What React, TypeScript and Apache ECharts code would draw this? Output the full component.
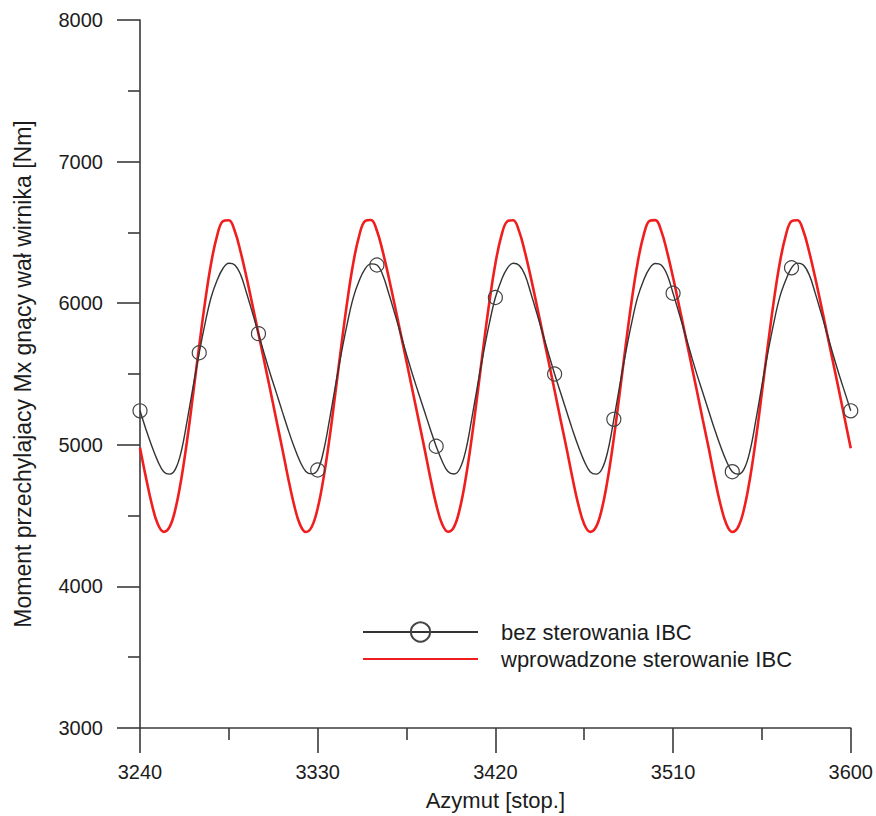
import { useEffect, useRef } from "react";
import * as echarts from "echarts";

// Axis ranges and ticks
const X_MIN = 3240;
const X_MAX = 3600;
const X_INTERVAL = 90;
const Y_MIN = 3000;
const Y_MAX = 8000;
const Y_INTERVAL = 1000;
const X_STEP = 3; // sampling step of the read values (degrees)
const MARKER_EVERY = 30; // circles of the first series every 30 degrees

const seriesNames = ["bez sterowania IBC", "wprowadzone sterowanie IBC"];

// "wprowadzone sterowanie IBC" (red), read per rotor revolution (72 deg each)
const red1 = [4980, 4770, 4580, 4440, 4385, 4420, 4550, 4766, 5046, 5368, 5700, 6013, 6280, 6474, 6579, 6586, 6510, 6360, 6180, 5985, 5785, 5585, 5385, 5180];
const red2 = [4978, 4768, 4578, 4438, 4384, 4421, 4552, 4768, 5048, 5370, 5702, 6015, 6282, 6476, 6580, 6588, 6512, 6362, 6182, 5987, 5787, 5586, 5386, 5182];
const red3 = [4980, 4771, 4581, 4441, 4386, 4419, 4549, 4765, 5045, 5366, 5699, 6012, 6279, 6473, 6578, 6586, 6509, 6359, 6179, 5984, 5784, 5584, 5384, 5179];
const red4 = [4979, 4769, 4579, 4439, 4385, 4420, 4551, 4767, 5047, 5369, 5701, 6014, 6281, 6475, 6580, 6587, 6511, 6361, 6181, 5986, 5786, 5585, 5385, 5181];
const red5 = [4980, 4770, 4580, 4440, 4384, 4420, 4550, 4766, 5046, 5368, 5700, 6013, 6280, 6474, 6579, 6586, 6510, 6360, 6180, 5985, 5785, 5585, 5385, 5180];
const redEnd = [4975];

// "bez sterowania IBC" (black with circles)
const black1 = [5240, 5110, 4990, 4885, 4810, 4793, 4830, 4960, 5180, 5420, 5650, 5860, 6040, 6160, 6245, 6282, 6270, 6200, 6070, 5930, 5785, 5640, 5500, 5370];
const black2 = [5238, 5108, 4988, 4884, 4812, 4795, 4822, 4958, 5178, 5418, 5648, 5858, 6038, 6158, 6243, 6278, 6270, 6198, 6068, 5928, 5783, 5638, 5498, 5368];
const black3 = [5240, 5112, 4990, 4886, 4811, 4794, 4831, 4961, 5181, 5421, 5651, 5861, 6040, 6161, 6246, 6282, 6268, 6199, 6069, 5929, 5784, 5639, 5500, 5369];
const black4 = [5239, 5109, 4989, 4885, 4810, 4793, 4829, 4959, 5180, 5419, 5649, 5859, 6039, 6159, 6244, 6280, 6269, 6201, 6070, 5931, 5786, 5641, 5501, 5371];
const black5 = [5241, 5111, 4991, 4886, 4810, 4792, 4830, 4960, 5179, 5420, 5650, 5860, 6041, 6160, 6250, 6283, 6270, 6200, 6071, 5930, 5785, 5640, 5500, 5370];
const blackEnd = [5240];

const FONT = "'Liberation Sans', Arial, Helvetica, sans-serif";
const AXIS_COLOR = "#3a3a3a";
const TEXT_COLOR = "#1c1c1c";

export default function App() {
  const ref = useRef<HTMLDivElement>(null);

  useEffect(() => {
    if (!ref.current) return;
    const chart = echarts.init(ref.current, null, { renderer: "svg" });

    const redValues = [...red1, ...red2, ...red3, ...red4, ...red5, ...redEnd];
    const blackValues = [...black1, ...black2, ...black3, ...black4, ...black5, ...blackEnd];
    const xs = redValues.map((_, i) => X_MIN + i * X_STEP);

    const axisLineStyle = { color: AXIS_COLOR, width: 1.6 };
    const plain = (v: number) => String(v);

    chart.setOption({
      animation: false,
      backgroundColor: "#ffffff",
      grid: { left: 140, right: 25, top: 20, bottom: 84, containLabel: false },
      legend: {
        orient: "vertical",
        left: 362,
        top: 621,
        padding: 0,
        itemWidth: 115,
        itemHeight: 24,
        itemGap: 5,
        selectedMode: false,
        textStyle: { fontSize: 22, color: TEXT_COLOR, fontFamily: FONT, padding: [0, 0, 0, 18] },
        data: [
          { name: seriesNames[0] },
          { name: seriesNames[1], itemStyle: { opacity: 0 } },
        ],
      },
      xAxis: {
        type: "value",
        min: X_MIN,
        max: X_MAX,
        interval: X_INTERVAL,
        name: "Azymut [stop.]",
        nameLocation: "middle",
        nameGap: 61,
        nameTextStyle: { fontSize: 22, color: TEXT_COLOR, fontFamily: FONT },
        axisLine: { show: true, onZero: false, lineStyle: axisLineStyle },
        axisTick: { show: true, length: 25, lineStyle: axisLineStyle },
        minorTick: { show: true, splitNumber: 2, length: 12, lineStyle: axisLineStyle },
        splitLine: { show: false },
        axisLabel: { fontSize: 20, color: TEXT_COLOR, fontFamily: FONT, margin: 34, formatter: plain },
      },
      yAxis: {
        type: "value",
        min: Y_MIN,
        max: Y_MAX,
        interval: Y_INTERVAL,
        name: "Moment przechylajacy Mx gnący wał wirnika [Nm]",
        nameLocation: "middle",
        nameGap: 106,
        nameTextStyle: { fontSize: 23, color: TEXT_COLOR, fontFamily: FONT },
        axisLine: { show: true, onZero: false, lineStyle: axisLineStyle },
        axisTick: { show: true, length: 23, lineStyle: axisLineStyle },
        minorTick: { show: true, splitNumber: 2, length: 12, lineStyle: axisLineStyle },
        splitLine: { show: false },
        axisLabel: { fontSize: 20, color: TEXT_COLOR, fontFamily: FONT, margin: 37, formatter: plain },
      },
      series: [
        {
          name: seriesNames[1],
          type: "line",
          data: xs.map((x, i) => [x, redValues[i]]),
          symbol: "none",
          smooth: 0.4,
          lineStyle: { color: "#f01e1e", width: 2.6 },
          itemStyle: { color: "#f01e1e" },
          z: 2,
        },
        {
          name: seriesNames[0],
          type: "line",
          data: xs.map((x, i) => ({
            value: [x, blackValues[i]],
            symbol: x % MARKER_EVERY === 0 ? "circle" : "none",
          })),
          symbol: "circle",
          symbolSize: 14,
          showSymbol: true,
          smooth: 0.4,
          lineStyle: { color: "#333333", width: 1.4 },
          itemStyle: { color: "rgba(255,255,255,0)", borderColor: "#444444", borderWidth: 1.2 },
          z: 3,
        },
      ],
    });

    return () => chart.dispose();
  }, []);

  return (
    <div
      ref={ref}
      style={{ position: "fixed", left: 0, top: 0, width: 876, height: 816, background: "#fff" }}
    />
  );
}
